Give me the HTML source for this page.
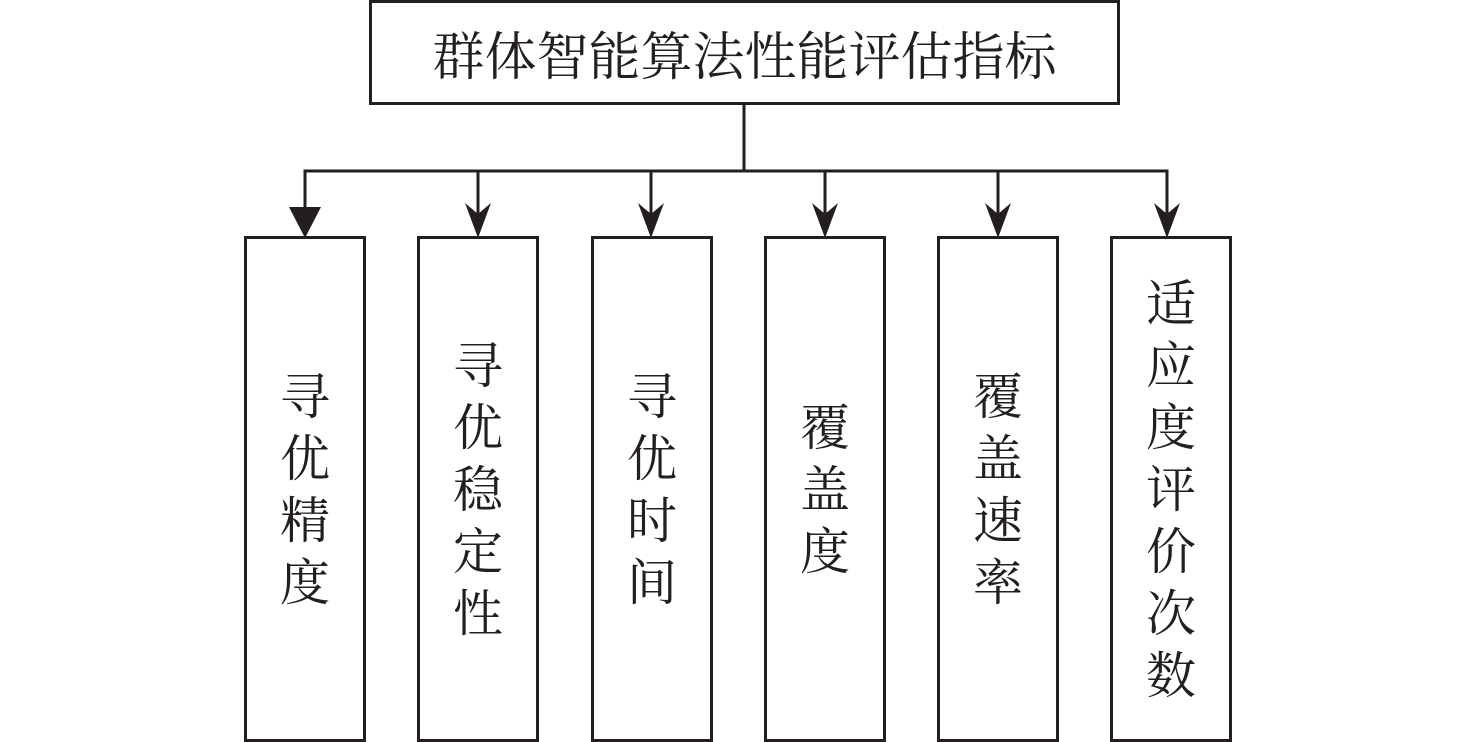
<!DOCTYPE html>
<html><head><meta charset="utf-8"><style>
html,body{margin:0;padding:0;background:#fff;}
body{width:1476px;height:741px;position:relative;overflow:hidden;font-family:"Liberation Serif","Noto Serif CJK SC",serif;color:#231f20;}
.box{position:absolute;border:3px solid #231f20;box-sizing:border-box;}
.v{position:absolute;top:238px;width:120px;height:503px;display:flex;flex-direction:column;justify-content:center;align-items:center;font-size:50px;line-height:62px;}
.v span{display:block;}
</style></head><body>
<svg width="1476" height="741" style="position:absolute;left:0;top:0">
<g stroke="#231f20" stroke-width="3" fill="none">
<line x1="744" y1="104" x2="744" y2="171"/>
<line x1="303.5" y1="171" x2="1168.5" y2="171"/>
<line x1="305" y1="171" x2="305" y2="210"/>
<line x1="478" y1="171" x2="478" y2="215"/>
<line x1="651" y1="171" x2="651" y2="215"/>
<line x1="825" y1="171" x2="825" y2="215"/>
<line x1="998" y1="171" x2="998" y2="215"/>
<line x1="1167" y1="171" x2="1167" y2="215"/>
</g>
<g fill="#231f20">
<polygon points="289,207 321,207 305,238"/>
<polygon points="465,203 478,214 491,203 478,238"/>
<polygon points="638,203 651,214 664,203 651,238"/>
<polygon points="812,203 825,214 838,203 825,238"/>
<polygon points="985,203 998,214 1011,203 998,238"/>
<polygon points="1154,203 1167,214 1180,203 1167,238"/>
</g>
</svg>
<div class="box" style="left:369px;top:0;width:751px;height:105px;display:flex;align-items:center;justify-content:center;font-size:52px;">群体智能算法性能评估指标</div>
<div class="box" style="left:244px;top:236px;width:122px;height:506px"></div>
<div class="box" style="left:417px;top:236px;width:122px;height:506px"></div>
<div class="box" style="left:591px;top:236px;width:122px;height:506px"></div>
<div class="box" style="left:764px;top:236px;width:122px;height:506px"></div>
<div class="box" style="left:937px;top:236px;width:122px;height:506px"></div>
<div class="box" style="left:1110px;top:236px;width:122px;height:506px"></div>
<div class="v" style="left:245px"><span>寻</span><span>优</span><span>精</span><span>度</span></div>
<div class="v" style="left:418px"><span>寻</span><span>优</span><span>稳</span><span>定</span><span>性</span></div>
<div class="v" style="left:592px"><span>寻</span><span>优</span><span>时</span><span>间</span></div>
<div class="v" style="left:765px"><span>覆</span><span>盖</span><span>度</span></div>
<div class="v" style="left:938px"><span>覆</span><span>盖</span><span>速</span><span>率</span></div>
<div class="v" style="left:1111px"><span>适</span><span>应</span><span>度</span><span>评</span><span>价</span><span>次</span><span>数</span></div>
</body></html>
